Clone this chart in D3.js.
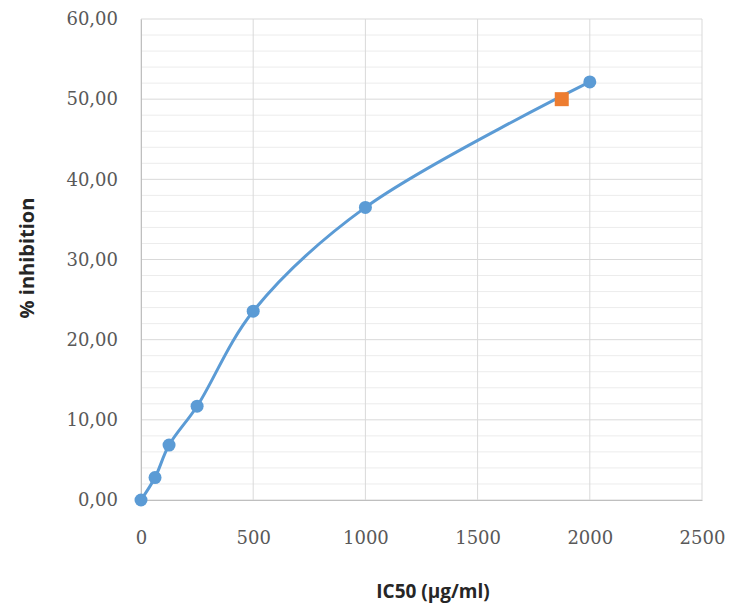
<!DOCTYPE html>
<html><head><meta charset="utf-8">
<script src="https://cdn.jsdelivr.net/npm/d3@7"></script>
<style>body{margin:0;background:#fff;}</style>
</head><body>
<svg id="c" width="737" height="609"></svg>
<script>
const concentrations = [0, 62.5, 125, 250, 500, 1000, 2000];
const inhibition = [0, 2.8, 6.85, 11.7, 23.55, 36.5, 52.15];
const ic50Point = [{x: 1875, y: 50}];
const xTicks = [0, 500, 1000, 1500, 2000, 2500];
const yTicks = [0, 10, 20, 30, 40, 50, 60];
const yMinorTicks = d3.range(0, 60.01, 2);

const svg = d3.select("#c");
const m = {l: 141, r: 702, t: 19, b: 500};
const x = d3.scaleLinear().domain([0, 2500]).range([m.l, m.r]);
const y = d3.scaleLinear().domain([0, 60]).range([m.b, m.t]);
const fmt = d => d.toFixed(2).replace(".", ",");

svg.append("g").selectAll("line").data(yMinorTicks.filter(v => v % 10 !== 0)).join("line")
  .attr("x1", m.l).attr("x2", m.r).attr("y1", d => y(d)).attr("y2", d => y(d))
  .attr("stroke", "#ececec").attr("stroke-width", 1);
svg.append("g").selectAll("line").data(yTicks).join("line")
  .attr("x1", m.l).attr("x2", m.r).attr("y1", d => y(d)).attr("y2", d => y(d))
  .attr("stroke", "#d9d9d9").attr("stroke-width", 1);
svg.append("g").selectAll("line").data(xTicks).join("line")
  .attr("y1", m.t).attr("y2", m.b).attr("x1", d => x(d)).attr("x2", d => x(d))
  .attr("stroke", "#d9d9d9").attr("stroke-width", 1);

const yAxis = svg.append("g").attr("transform", `translate(${m.l},0)`)
  .call(d3.axisLeft(y).tickValues(yTicks).tickFormat(fmt).tickSize(0).tickPadding(23));
const xAxis = svg.append("g").attr("transform", `translate(0,${m.b})`)
  .call(d3.axisBottom(x).tickValues(xTicks).tickFormat(d3.format("d")).tickSize(0).tickPadding(31));
[yAxis, xAxis].forEach(a => {
  a.select(".domain").attr("stroke", "#bfbfbf");
  a.selectAll("text").attr("fill", "#595959").attr("font-family", "'DejaVu Serif', serif")
    .attr("font-size", 18);
});

const pts = concentrations.map((c, i) => ({x: c, y: inhibition[i]}));
svg.append("path").datum(pts)
  .attr("d", d3.line().x(d => x(d.x)).y(d => y(d.y)).curve(d3.curveCatmullRom.alpha(0.5)))
  .attr("fill", "none").attr("stroke", "#5b9bd5").attr("stroke-width", 3);
svg.append("g").selectAll("circle").data(pts).join("circle")
  .attr("cx", d => x(d.x)).attr("cy", d => y(d.y)).attr("r", 6.5).attr("fill", "#5b9bd5");
svg.append("g").selectAll("rect").data(ic50Point).join("rect")
  .attr("x", d => x(d.x) - 7).attr("y", d => y(d.y) - 7).attr("width", 14).attr("height", 14)
  .attr("fill", "#ed7d31");

svg.append("text").attr("x", 433).attr("y", 598).attr("text-anchor", "middle")
  .attr("font-family", "'Open Sans', sans-serif").attr("font-weight", "bold").attr("font-size", 19)
  .attr("fill", "#262626").text("IC50 (µg/ml)");
svg.append("text").attr("transform", "translate(34,258) rotate(-90)").attr("text-anchor", "middle")
  .attr("font-family", "'Open Sans', sans-serif").attr("font-weight", "bold").attr("font-size", 20)
  .attr("fill", "#262626").text("% inhibition");
</script>
</body></html>
